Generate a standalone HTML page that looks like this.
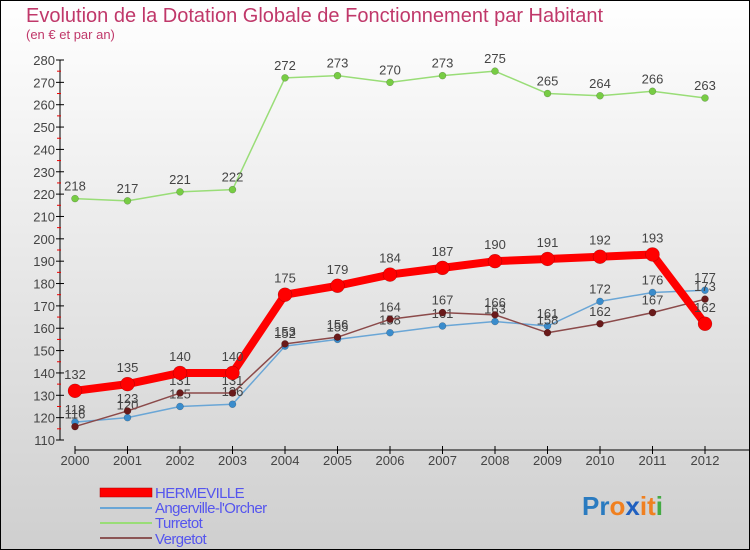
<!DOCTYPE html>
<html><head><meta charset="utf-8"><style>
body{margin:0}
#c{width:750px;height:550px;position:relative;overflow:hidden}
text{font-family:"Liberation Sans",sans-serif}
</style></head><body>
<div id="c">
<svg id="s" width="750" height="550" xmlns="http://www.w3.org/2000/svg">
<defs><linearGradient id="bg" x1="0" y1="0" x2="0" y2="1"><stop offset="0" stop-color="#ffffff"/><stop offset="1" stop-color="#cfcfcf"/></linearGradient></defs>
<rect x="0.5" y="0.5" width="749" height="549" fill="url(#bg)" stroke="#000"/>
<text x="26" y="22" font-size="20" fill="#c0386a">Evolution de la Dotation Globale de Fonctionnement par Habitant</text>
<text x="26" y="39" font-size="13" fill="#c0386a">(en € et par an)</text>
<g id="axes"></g><g id="series"></g>
<g>
<rect x="100" y="488" width="52" height="9" fill="#f00" stroke="#a00" stroke-width="0.5"/>
<line x1="100" y1="508" x2="152" y2="508" stroke="#6aa6d6" stroke-width="2"/>
<line x1="100" y1="523" x2="152" y2="523" stroke="#99dd77" stroke-width="2"/>
<line x1="100" y1="538" x2="152" y2="538" stroke="#8b5555" stroke-width="2"/>
<text x="155" y="498" font-size="15" fill="#5555ee" letter-spacing="-0.6">HERMEVILLE</text>
<text x="155" y="513" font-size="15" fill="#5555ee" letter-spacing="-0.6">Angerville-l'Orcher</text>
<text x="155" y="528" font-size="15" fill="#5555ee" letter-spacing="-0.6">Turretot</text>
<text x="155" y="544" font-size="15" fill="#5555ee" letter-spacing="-0.6">Vergetot</text>
</g>
<text x="582" y="515" font-size="26" font-weight="bold"><tspan fill="#2a7bc0">Pr</tspan><tspan fill="#f08020">o</tspan><tspan fill="#2060c0">x</tspan><tspan fill="#f08020">i</tspan><tspan fill="#f08020">t</tspan><tspan fill="#44aa44">i</tspan></text>
</svg></div>
<script>
const years=["2000","2001","2002","2003","2004","2005","2006","2007","2008","2009","2010","2011","2012"];
const yTicks=[110,120,130,140,150,160,170,180,190,200,210,220,230,240,250,260,270,280];
const hermeville=[132,135,140,140,175,179,184,187,190,191,192,193,162];
const angerville=[118,120,125,126,152,155,158,161,163,161,172,176,177];
const turretot=[218,217,221,222,272,273,270,273,275,265,264,266,263];
const vergetot=[116,123,131,131,153,156,164,167,166,158,162,167,173];
const NS="http://www.w3.org/2000/svg";
const X=i=>75+i*52.5, Y=v=>440-(v-110)*380/170;
function mk(t,a,p){const e=document.createElementNS(NS,t);for(const k in a)e.setAttribute(k,a[k]);p.appendChild(e);return e;}
const ax=document.getElementById('axes');
let yl=mk('line',{x1:60,y1:60,x2:60,y2:440,stroke:'#000'},ax);


yTicks.forEach(v=>{mk('line',{x1:56,y1:Y(v),x2:64,y2:Y(v),stroke:'#000'},ax);
 if(v<280)mk('line',{x1:57,y1:Y(v+5),x2:61,y2:Y(v+5),stroke:'#e00'},ax);
 const t=mk('text',{x:55,y:Y(v)+5,'text-anchor':'end','font-size':13,fill:'#444'},ax);t.textContent=v;
 
 });
let xl=mk('line',{x1:75,y1:450,x2:750,y2:450,stroke:'#000'},ax);


years.forEach((y,i)=>{mk('line',{x1:X(i),y1:446,x2:X(i),y2:454,stroke:'#000'},ax);
 const t=mk('text',{x:X(i),y:465,'text-anchor':'middle','font-size':13,fill:'#444'},ax);t.textContent=y;
 
 });
const sg=document.getElementById('series');
function draw(name,d,col,w,r,dot){
 const g=mk('g',{},sg);
 
 
 mk('polyline',{points:d.map((v,i)=>X(i)+','+Y(v)).join(' '),fill:'none',stroke:col,'stroke-width':w,'stroke-linejoin':'round'},g);
 d.forEach((v,i)=>{const c=mk('circle',{cx:X(i),cy:Y(v),r:r,fill:dot,stroke:'rgba(0,0,0,0.3)','stroke-width':0.5},g);
  
  
  const t=mk('text',{x:X(i),y:Y(v)-8-(r>5?4:0),'text-anchor':'middle','font-size':13,fill:'#444'},g);t.textContent=v;});
}
draw('turretot',turretot,'#99dd77',1.5,3.5,'#77cc44');
draw('angerville',angerville,'#6aa6d6',1.5,3.5,'#3a8ccc');
draw('vergetot',vergetot,'#8b4a4a',1.5,3.5,'#6a1a1a');
draw('hermeville',hermeville,'#f00',8,7,'#f00');
</script>
</body></html>
